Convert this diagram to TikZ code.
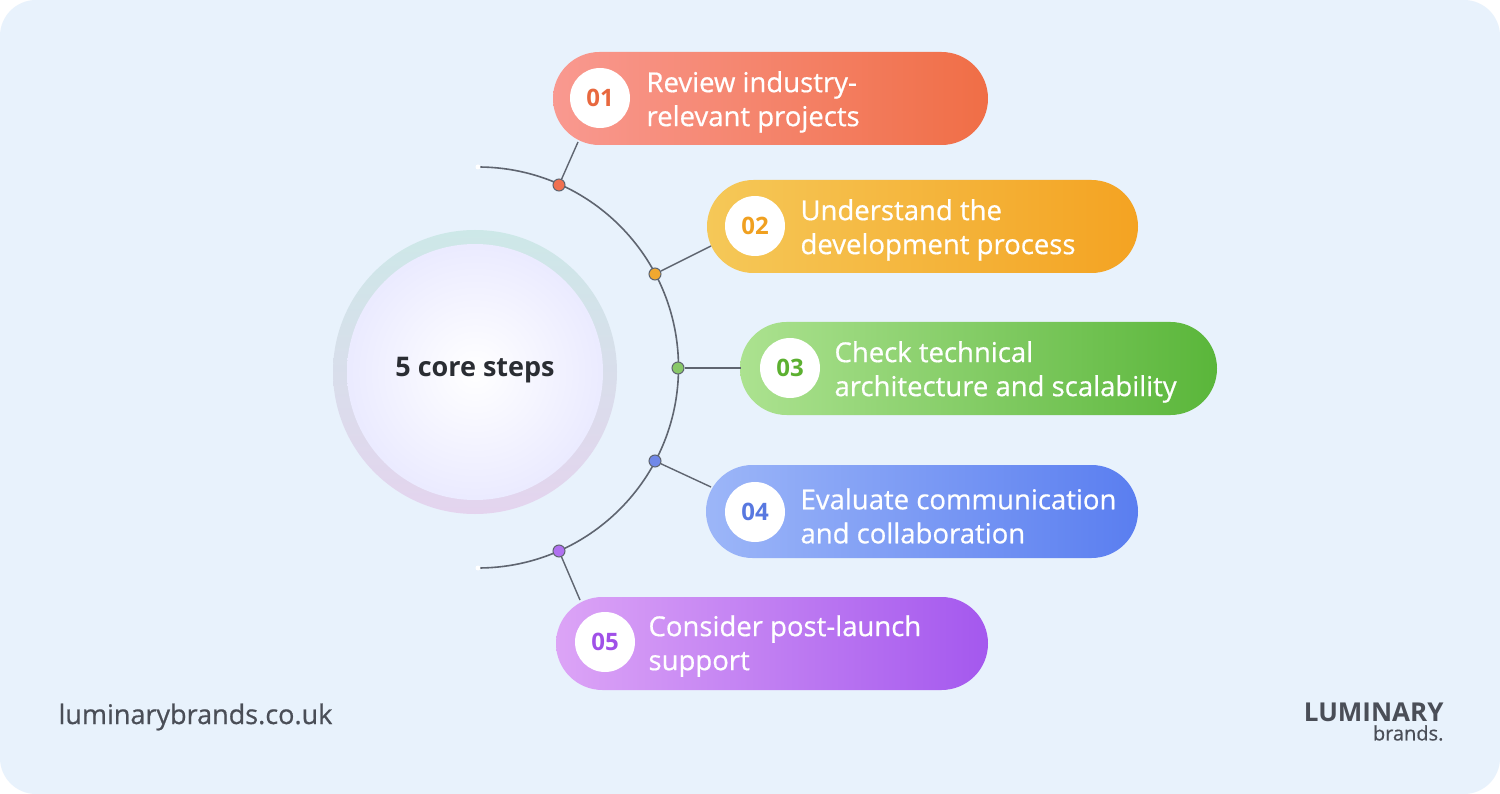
\documentclass[tikz,border=0pt]{standalone}
\usepackage{fontspec}
\setmainfont{Open Sans}
\newfontfamily\medfont[FakeBold=0.6]{Open Sans}
\usetikzlibrary{shadings}
\definecolor{bg}{HTML}{E8F2FC}
\definecolor{ln}{HTML}{5F6570}
\definecolor{txt}{HTML}{2A2D33}
\definecolor{gr}{HTML}{4A4E57}
\definecolor{a1}{HTML}{F99990}\definecolor{b1}{HTML}{F06E46}
\definecolor{a2}{HTML}{F5C858}\definecolor{b2}{HTML}{F4A322}
\definecolor{a3}{HTML}{ACE290}\definecolor{b3}{HTML}{5AB63A}
\definecolor{a4}{HTML}{9CB6F8}\definecolor{b4}{HTML}{5A7EF0}
\definecolor{a5}{HTML}{DCA4F6}\definecolor{b5}{HTML}{A458EE}
\definecolor{n1c}{HTML}{E8683F}\definecolor{n2c}{HTML}{F0A020}
\definecolor{n3c}{HTML}{5CB030}\definecolor{n4c}{HTML}{5878E0}
\definecolor{n5c}{HTML}{A050E8}
\definecolor{d1c}{HTML}{F07050}\definecolor{d2c}{HTML}{F0A830}
\definecolor{d3c}{HTML}{88C868}\definecolor{d4c}{HTML}{7088E8}
\definecolor{d5c}{HTML}{B070F0}
\definecolor{rt}{HTML}{CDE8E8}\definecolor{rb}{HTML}{E4D4EE}
\tikzset{
 pill/.style args={#1/#2}{rounded corners=46.5pt, left color=#1, right color=#2},
 num/.style={circle, fill=white, minimum size=60pt, inner sep=0pt, font=\fontsize{24}{24}\selectfont\bfseries, text=#1},
 lbl/.style={anchor=west, align=left, text=white, font=\medfont\fontsize{27.5}{34}\selectfont},
 dot/.style={circle, fill=#1, draw=ln, line width=1pt, minimum size=12pt, inner sep=0pt},
 conn/.style={ln, line width=1.4pt}
}
\begin{document}
\begin{tikzpicture}[x=1pt,y=-1pt]
\useasboundingbox (0,0) rectangle (1500,794);
\fill[white] (0,0) rectangle (1500,794);
\fill[bg, rounded corners=36pt] (0,0) rectangle (1500,794);
% center circle
\shade[top color=rt, bottom color=rb] (475,372) circle (142);
\shade[inner color=white, outer color=white!92!blue] (475,372) circle (128);
\node[font=\fontsize{27}{27}\selectfont\bfseries, text=txt] (c) at (475,370) {5 core steps};
% arc
\coordinate (e1) at (478,167); \coordinate (e2) at (478,568);
\draw[ln, line width=1.6pt] (e1) arc[start angle=-90, end angle=90, radius=200.5];
\fill[white] (e1) circle (2.5); \fill[white] (e2) circle (2.5);
% pills
\shade[pill={a1/b1}] (553,52) rectangle (988,145);
\shade[pill={a2/b2}] (707,180) rectangle (1138,273);
\shade[pill={a3/b3}] (740,322) rectangle (1217,415);
\shade[pill={a4/b4}] (706,465) rectangle (1138,558);
\shade[pill={a5/b5}] (556,597) rectangle (988,690);
\coordinate (p1) at (578,142); \coordinate (p2) at (711,246);
\coordinate (p3) at (741,368); \coordinate (p4) at (711,487);
\coordinate (p5) at (580,600);
\node[dot=d1c] (d1) at (559,185) {};
\node[dot=d2c] (d2) at (655,274) {};
\node[dot=d3c] (d3) at (678,368) {};
\node[dot=d4c] (d4) at (655,461) {};
\node[dot=d5c] (d5) at (559,551) {};
\draw[conn] (d1) -- (p1); \draw[conn] (d2) -- (p2); \draw[conn] (d3) -- (p3);
\draw[conn] (d4) -- (p4); \draw[conn] (d5) -- (p5);
\node[num=n1c] (n1) at (600,98) {01};
\node[num=n2c] (n2) at (755,226) {02};
\node[num=n3c] (n3) at (790,368) {03};
\node[num=n4c] (n4) at (755,512) {04};
\node[num=n5c] (n5) at (605,642) {05};
\node[lbl] (t1) at (643,102) {Review industry-\\relevant projects};
\node[lbl] (t2) at (797,230) {Understand the\\development process};
\node[lbl] (t3) at (831,372) {Check technical\\architecture and scalability};
\node[lbl] (t4) at (797,516) {Evaluate communication\\and collaboration};
\node[lbl] (t5) at (645,646) {Consider post-launch\\support};
\node[anchor=west, text=gr, font=\medfont\fontsize{27}{27}\selectfont] (url) at (55,717) {luminarybrands.co.uk};
\node[anchor=east, text=gr, font=\fontsize{26}{26}\selectfont\bfseries] (logo) at (1447,712) {LUMINARY};
\node[anchor=east, text=gr, font=\medfont\fontsize{20}{20}\selectfont] (logo2) at (1447,733) {brands.};
\end{tikzpicture}
\end{document}
